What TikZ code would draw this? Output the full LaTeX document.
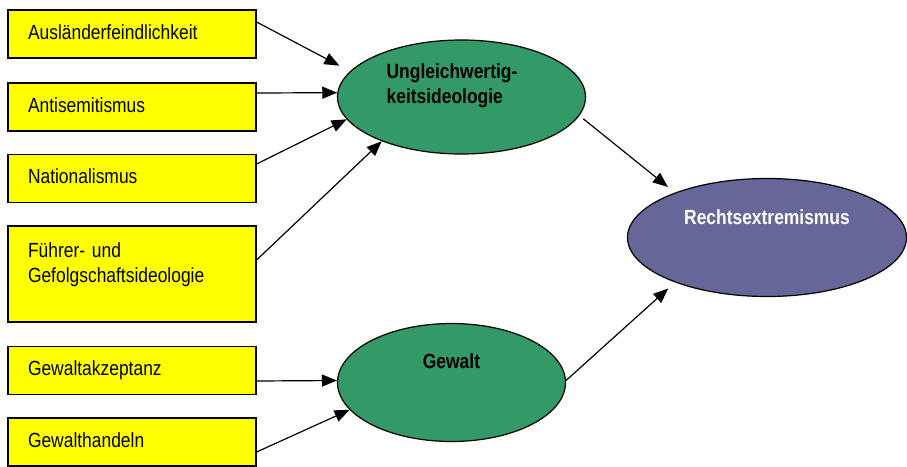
\documentclass[tikz,border=0pt]{standalone}
\usepackage{fontspec}
\setmainfont{Liberation Sans}[FakeStretch=0.85]
\usepackage{xcolor}
\usetikzlibrary{positioning,arrows.meta,calc,shapes.geometric}
\definecolor{boxyellow}{RGB}{255,255,0}
\definecolor{ovalgreen}{RGB}{51,153,102}
\definecolor{ovalpurple}{RGB}{102,102,153}

\begin{document}
\begin{tikzpicture}[x=1pt,y=-1pt,
  factor/.style={draw=black,line width=1.2pt,fill=boxyellow,text width=208pt,align=left,
    inner xsep=20pt,inner ysep=0pt,minimum height=48pt,
    font=\fontsize{20.5}{25}\selectfont,execute at begin node=\strut},
  construct/.style={ellipse,draw=black,line width=1.2pt,inner sep=0pt},
  ovaltext/.style={font=\fontsize{20.5}{25}\selectfont\bfseries,align=left,inner sep=0pt},
  effect/.style={-{Triangle[length=15pt,width=12pt]},line width=1.2pt}
]
  \useasboundingbox (0,0) rectangle (907,466);
  % indicator boxes on the left
  \foreach \nm/\y/\txt in {%
     aus/34/Ausländerfeindlichkeit,
     anti/107/Antisemitismus,
     nat/178.5/Nationalismus,
     akz/370.5/Gewaltakzeptanz,
     hand/442/Gewalthandeln%
  }{
    \node[factor] (\nm) at (132,\y) {\txt};
  }
  \node[factor,minimum height=96pt] (fuehr) at (132,274) {Führer- und\\Gefolgschaftsideologie\\\mbox{}};

  % constructs
  \node[construct,fill=ovalgreen,minimum width=248pt,minimum height=114pt] (ungleich) at (461.5,97) {};
  \node[construct,fill=ovalgreen,minimum width=228pt,minimum height=118pt] (gewalt) at (451.5,382.5) {};
  \node[construct,fill=ovalpurple,minimum width=279pt,minimum height=118pt] (rex) at (767,237.5) {};
  \node[ovaltext] (ungleichlbl) at ([xshift=-9.5pt,yshift=11pt]ungleich.center) {Ungleichwertig-\\keitsideologie};
  \node[ovaltext] (gewaltlbl) at ([yshift=21.5pt]gewalt.center) {Gewalt};
  \node[ovaltext,text=white] (rexlbl) at ([yshift=20.5pt]rex.center) {Rechtsextremismus};

  % arrows
  \draw[effect,shorten >=12pt] ([yshift=12pt]aus.east) -- (ungleich.167);
  \draw[effect] ([yshift=14pt]anti.east) -- (ungleich.178);
  \draw[effect] ([yshift=14.5pt]nat.east) -- (ungleich.191);
  \draw[effect] ([yshift=14pt]fuehr.east) -- (ungleich.209);
  \draw[effect] ([yshift=-10.5pt]akz.east) -- (gewalt.179);
  \draw[effect] ([yshift=-10pt]hand.east) -- (gewalt.195);
  \draw[effect,shorten <=5pt,shorten >=9pt] (ungleich.-9) -- (rex.154);
  \draw[effect,shorten >=9pt] (gewalt.1) -- (rex.206);
\end{tikzpicture}
\end{document}
